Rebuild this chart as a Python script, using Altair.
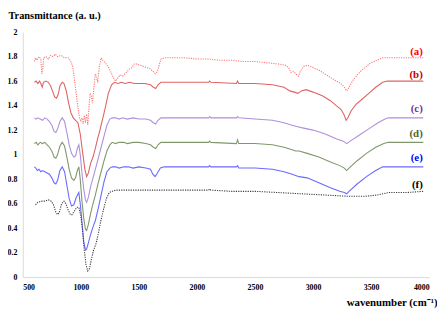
import altair as alt
import pandas as pd

# ---- data ----
a_x = [600, 610, 620, 640, 655, 665, 672, 680, 700, 720, 740, 760, 780, 800, 830, 860, 890, 910, 930, 950, 970, 990, 1000, 1010, 1020, 1030, 1040, 1050, 1060, 1070, 1080, 1090, 1100, 1110, 1125, 1135, 1145, 1160, 1175, 1190, 1210, 1240, 1265, 1285, 1300, 1320, 1340, 1360, 1380, 1400, 1420, 1440, 1460, 1480, 1510, 1540, 1570, 1600, 1620, 1640, 1660, 1675, 1690, 1720, 1800, 1900, 2000, 2100, 2200, 2300, 2400, 2500, 2600, 2700, 2760, 2790, 2810, 2830, 2860, 2875, 2890, 2920, 2950, 3000, 3050, 3100, 3150, 3200, 3240, 3270, 3290, 3310, 3340, 3380, 3420, 3460, 3500, 3550, 3600, 3650, 3950]
a_y = [1.76, 1.79, 1.77, 1.80, 1.78, 1.66, 1.70, 1.79, 1.80, 1.78, 1.81, 1.80, 1.82, 1.80, 1.81, 1.79, 1.79, 1.77, 1.72, 1.58, 1.42, 1.30, 1.27, 1.30, 1.25, 1.32, 1.26, 1.33, 1.24, 1.38, 1.50, 1.48, 1.42, 1.52, 1.66, 1.63, 1.59, 1.72, 1.79, 1.77, 1.75, 1.71, 1.66, 1.62, 1.60, 1.63, 1.65, 1.64, 1.66, 1.68, 1.70, 1.71, 1.74, 1.74, 1.73, 1.72, 1.71, 1.70, 1.68, 1.66, 1.68, 1.73, 1.78, 1.79, 1.79, 1.79, 1.78, 1.78, 1.77, 1.77, 1.76, 1.76, 1.75, 1.74, 1.73, 1.71, 1.67, 1.68, 1.65, 1.64, 1.68, 1.72, 1.73, 1.71, 1.69, 1.66, 1.63, 1.60, 1.58, 1.55, 1.52, 1.55, 1.60, 1.65, 1.69, 1.72, 1.75, 1.77, 1.79, 1.79, 1.79]

b_x = [600, 615, 630, 645, 660, 668, 678, 700, 720, 740, 760, 775, 790, 805, 820, 840, 855, 875, 895, 915, 935, 955, 975, 995, 1015, 1035, 1050, 1065, 1085, 1105, 1125, 1145, 1165, 1185, 1210, 1237, 1265, 1290, 1320, 1350, 1380, 1420, 1460, 1500, 1550, 1600, 1625, 1645, 1665, 1690, 1800, 1950, 2100, 2110, 2120, 2340, 2350, 2360, 2500, 2650, 2750, 2800, 2840, 2870, 2900, 2940, 3000, 3080, 3150, 3200, 3240, 3265, 3285, 3300, 3330, 3370, 3420, 3480, 3540, 3600, 3640, 3950]
b_y = [1.59, 1.60, 1.58, 1.60, 1.57, 1.55, 1.59, 1.60, 1.59, 1.56, 1.51, 1.47, 1.46, 1.49, 1.56, 1.59, 1.58, 1.52, 1.42, 1.34, 1.30, 1.28, 1.26, 1.17, 1.02, 0.88, 0.82, 0.85, 0.93, 0.98, 1.05, 1.13, 1.20, 1.28, 1.38, 1.50, 1.57, 1.59, 1.58, 1.59, 1.58, 1.59, 1.58, 1.58, 1.58, 1.57, 1.55, 1.54, 1.57, 1.59, 1.59, 1.59, 1.59, 1.60, 1.59, 1.58, 1.60, 1.58, 1.58, 1.57, 1.55, 1.52, 1.51, 1.50, 1.52, 1.53, 1.51, 1.48, 1.44, 1.40, 1.37, 1.33, 1.28, 1.30, 1.36, 1.41, 1.45, 1.50, 1.55, 1.59, 1.60, 1.60]

c_x = [600, 615, 630, 650, 670, 690, 710, 730, 750, 770, 785, 800, 820, 840, 860, 880, 900, 920, 940, 955, 970, 983, 995, 1010, 1025, 1040, 1050, 1065, 1085, 1105, 1125, 1150, 1175, 1200, 1225, 1250, 1270, 1300, 1330, 1360, 1400, 1450, 1500, 1560, 1600, 1625, 1645, 1665, 1690, 1800, 2100, 2110, 2120, 2340, 2350, 2360, 2500, 2650, 2750, 2820, 2860, 2900, 3000, 3100, 3200, 3260, 3290, 3320, 3400, 3480, 3560, 3620, 3650, 3950]
c_y = [1.30, 1.29, 1.30, 1.29, 1.28, 1.30, 1.29, 1.27, 1.24, 1.19, 1.18, 1.21, 1.27, 1.30, 1.27, 1.18, 1.08, 1.01, 0.98, 0.99, 1.05, 1.08, 1.00, 0.85, 0.72, 0.63, 0.61, 0.65, 0.74, 0.81, 0.88, 0.97, 1.06, 1.15, 1.24, 1.29, 1.30, 1.30, 1.29, 1.30, 1.29, 1.30, 1.29, 1.29, 1.28, 1.26, 1.25, 1.28, 1.30, 1.30, 1.30, 1.31, 1.30, 1.30, 1.31, 1.30, 1.29, 1.28, 1.26, 1.24, 1.23, 1.22, 1.20, 1.17, 1.13, 1.11, 1.09, 1.11, 1.16, 1.21, 1.26, 1.29, 1.30, 1.30]

d_x = [600, 615, 630, 650, 670, 690, 710, 730, 750, 770, 785, 800, 820, 840, 860, 880, 900, 920, 940, 955, 970, 983, 995, 1010, 1025, 1040, 1050, 1065, 1085, 1105, 1125, 1150, 1175, 1200, 1225, 1250, 1270, 1300, 1330, 1370, 1400, 1450, 1500, 1560, 1600, 1625, 1645, 1665, 1690, 1800, 2100, 2110, 2120, 2340, 2350, 2360, 2500, 2650, 2750, 2820, 2850, 2880, 2950, 3050, 3150, 3230, 3270, 3290, 3310, 3380, 3460, 3540, 3610, 3650, 3950]
d_y = [1.09, 1.10, 1.08, 1.10, 1.09, 1.10, 1.08, 1.06, 1.03, 0.98, 0.97, 1.00, 1.07, 1.10, 1.07, 0.98, 0.88, 0.81, 0.79, 0.81, 0.87, 0.90, 0.80, 0.62, 0.48, 0.39, 0.38, 0.43, 0.52, 0.60, 0.67, 0.77, 0.86, 0.95, 1.03, 1.08, 1.10, 1.09, 1.10, 1.10, 1.09, 1.10, 1.10, 1.09, 1.08, 1.06, 1.05, 1.08, 1.10, 1.10, 1.10, 1.11, 1.10, 1.09, 1.12, 1.09, 1.09, 1.08, 1.06, 1.04, 1.03, 1.03, 1.01, 0.98, 0.94, 0.91, 0.89, 0.87, 0.89, 0.95, 1.01, 1.06, 1.09, 1.10, 1.10]

e_x = [600, 612, 625, 640, 655, 670, 690, 710, 730, 750, 770, 785, 800, 820, 840, 860, 880, 900, 920, 940, 960, 983, 995, 1010, 1025, 1040, 1050, 1065, 1085, 1105, 1125, 1150, 1175, 1200, 1225, 1250, 1270, 1300, 1330, 1370, 1410, 1450, 1500, 1560, 1600, 1620, 1640, 1660, 1685, 1720, 1800, 2100, 2110, 2120, 2340, 2350, 2360, 2500, 2650, 2750, 2820, 2850, 2880, 2950, 3050, 3150, 3230, 3270, 3290, 3310, 3380, 3460, 3540, 3600, 3950]
e_y = [0.90, 0.89, 0.87, 0.88, 0.86, 0.87, 0.86, 0.85, 0.84, 0.81, 0.77, 0.76, 0.79, 0.87, 0.90, 0.86, 0.75, 0.64, 0.58, 0.59, 0.65, 0.69, 0.60, 0.45, 0.29, 0.22, 0.23, 0.28, 0.35, 0.41, 0.46, 0.56, 0.67, 0.78, 0.86, 0.89, 0.90, 0.90, 0.89, 0.90, 0.90, 0.89, 0.90, 0.89, 0.88, 0.84, 0.82, 0.85, 0.89, 0.90, 0.90, 0.90, 0.91, 0.90, 0.90, 0.91, 0.89, 0.89, 0.88, 0.86, 0.84, 0.83, 0.82, 0.81, 0.77, 0.73, 0.70, 0.69, 0.68, 0.70, 0.76, 0.82, 0.87, 0.90, 0.90]

f_x = [610, 630, 660, 690, 720, 745, 765, 785, 800, 815, 835, 855, 870, 890, 910, 925, 945, 965, 983, 1000, 1015, 1030, 1045, 1060, 1075, 1090, 1110, 1130, 1150, 1170, 1195, 1220, 1245, 1270, 1300, 1400, 1500, 1600, 1700, 1800, 1900, 2000, 2100, 2110, 2120, 2300, 2500, 2700, 2900, 3100, 3300, 3450, 3550, 3650, 3800, 3950]
f_y = [0.59, 0.61, 0.62, 0.62, 0.63, 0.62, 0.59, 0.53, 0.51, 0.53, 0.60, 0.62, 0.60, 0.55, 0.51, 0.51, 0.54, 0.57, 0.57, 0.50, 0.38, 0.22, 0.10, 0.05, 0.07, 0.14, 0.22, 0.27, 0.35, 0.45, 0.55, 0.64, 0.69, 0.70, 0.71, 0.71, 0.71, 0.71, 0.71, 0.71, 0.71, 0.71, 0.71, 0.72, 0.71, 0.70, 0.70, 0.69, 0.68, 0.67, 0.66, 0.66, 0.67, 0.69, 0.69, 0.70]

label_text = ["(a)", "(b)", "(c)", "(d)", "(e)", "(f)"]
label_x = [3945, 3945, 3945, 3945, 3945, 3945]
label_y = [1.84, 1.65, 1.37, 1.17, 0.97, 0.75]
label_colors = ["#FF0000", "#C00000", "#7030A0", "#4F6228", "#0000FF", "#000000"]

series = [
    ("a", a_x, a_y, "#FF7373", [1.2, 1.2]),
    ("b", b_x, b_y, "#DE6464", None),
    ("c", c_x, c_y, "#AE90DA", None),
    ("d", d_x, d_y, "#80976C", None),
    ("e", e_x, e_y, "#6A6AFF", None),
    ("f", f_x, f_y, "#3A3A3A", [1.2, 1.2]),
]

x_ticks = [500, 1000, 1500, 2000, 2500, 3000, 3500, 4000]
y_ticks = [0, 0.2, 0.4, 0.6, 0.8, 1, 1.2, 1.4, 1.6, 1.8, 2]

FONT = "Liberation Serif"

x_scale = alt.Scale(domain=[500, 4000], nice=False, zero=False)
y_scale = alt.Scale(domain=[0, 2], nice=False, zero=False)

x_axis = alt.Axis(
    values=x_ticks, format="d", grid=False, ticks=False, tickSize=0,
    labelOverlap=False, labelPadding=7, labelFontSize=8, labelFontWeight="bold",
    labelFont=FONT, labelColor="#000000", domainColor="#D9D9D9",
    title="wavenumber (cm⁻¹)", titleFont=FONT, titleFontSize=11,
    titleFontWeight="bold", titleColor="#000000", titleAlign="right",
    titleAnchor="end", titleX=421, titleY=29, titleBaseline="alphabetic",
)
y_axis = alt.Axis(
    values=y_ticks, format="~g", grid=False, ticks=False, tickSize=0,
    labelOverlap=False, labelPadding=6, labelFontSize=8, labelFontWeight="bold",
    labelFont=FONT, labelColor="#000000", domainColor="#D9D9D9",
    title="Transmittance (a. u.)", titleFont=FONT, titleFontSize=10.5,
    titleFontWeight="bold", titleColor="#000000", titleAngle=0,
    titleAlign="left", titleBaseline="top", titleX=-15, titleY=-22,
)

def xe():
    return alt.X("x:Q", scale=x_scale, axis=x_axis)

def ye():
    return alt.Y("y:Q", scale=y_scale, axis=y_axis)

layers = []
for name, xs, ys, col, dash in series:
    df = pd.DataFrame({"x": xs, "y": ys})
    kw = dict(color=col, strokeWidth=1.1)
    if dash:
        kw["strokeDash"] = dash
    layers.append(alt.Chart(df).mark_line(**kw).encode(x=xe(), y=ye()))

lab_df = pd.DataFrame({"x": label_x, "y": label_y, "t": label_text, "c": label_colors})
labels = alt.Chart(lab_df).mark_text(
    align="right", baseline="middle", font=FONT, fontSize=11, fontWeight="bold"
).encode(
    x=xe(), y=ye(),
    text="t:N",
    color=alt.Color("c:N", scale=None),
)

chart = alt.layer(*layers, labels).properties(
    width=413, height=249,
    background="white",
    autosize=alt.AutoSizeParams(type="none"),
    padding={"left": 15, "top": 22, "right": 8, "bottom": 34},
).configure_view(stroke=None).configure_axis(labelOverlap=False)

chart.save("out.html", embed_options={"renderer": "svg", "actions": False})
